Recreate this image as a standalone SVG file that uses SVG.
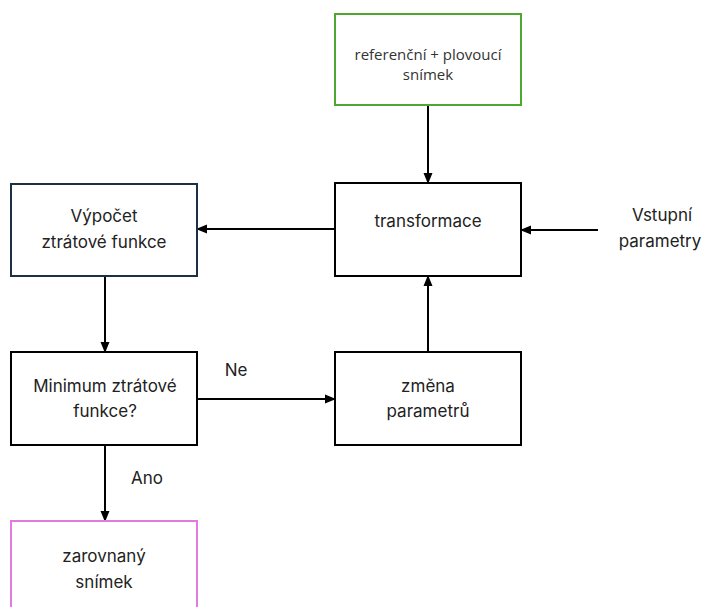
<svg xmlns="http://www.w3.org/2000/svg" width="703" height="607" viewBox="0 0 703 607">
<style>
.box{fill:#fff;stroke-width:2}
.t{font-family:"Inter","Liberation Sans",sans-serif;font-size:17px;fill:#222;text-anchor:middle}
.s{font-family:"Open Sans","Liberation Sans",sans-serif;font-size:15px;fill:#333;text-anchor:middle}
.c{stroke:#000;stroke-width:2;fill:none;marker-end:url(#ah)}
</style>
<defs>
<marker id="ah" markerWidth="11" markerHeight="11" refX="10" refY="5.5" orient="auto" markerUnits="userSpaceOnUse">
<path d="M0,1 L11,5.5 L0,10 Z" fill="#000"/>
</marker>
</defs>
<rect width="703" height="607" fill="#fff"/>
<g id="connectors">
<line class="c" x1="428" y1="105" x2="428" y2="183"/>
<line class="c" x1="335" y1="229" x2="197" y2="229"/>
<line class="c" x1="598" y1="230" x2="521" y2="230"/>
<line class="c" x1="105" y1="276" x2="105" y2="352"/>
<line class="c" x1="197" y1="399" x2="335" y2="399"/>
<line class="c" x1="428" y1="352" x2="428" y2="276"/>
<line class="c" x1="105" y1="445" x2="105" y2="521"/>
<text class="t" x="236" y="376">Ne</text>
<text class="t" x="147" y="484">Ano</text>
</g>
<g id="ref">
<rect class="box" x="335" y="14" width="186" height="91" stroke="#4ea72e"/>
<text class="s" x="428" y="60">referenční + plovoucí</text>
<text class="s" x="428" y="80">snímek</text>
</g>
<g id="transform">
<rect class="box" x="335" y="183" width="186" height="93" stroke="#000"/>
<text class="t" x="428" y="227">transformace</text>
</g>
<g id="vypocet">
<rect class="box" x="11" y="184" width="186" height="92" stroke="#1b2f45"/>
<text class="t" x="104" y="222">Výpočet</text>
<text class="t" x="104" y="248">ztrátové funkce</text>
</g>
<g id="vstup">
<text class="t" x="662" y="221">Vstupní</text>
<text class="t" x="660" y="247">parametry</text>
</g>
<g id="minimum">
<rect class="box" x="11" y="352" width="186" height="93" stroke="#000"/>
<text class="t" x="105" y="392">Minimum ztrátové</text>
<text class="t" x="105" y="417">funkce?</text>
</g>
<g id="zmena">
<rect class="box" x="335" y="352" width="186" height="93" stroke="#000"/>
<text class="t" x="428" y="392">změna</text>
<text class="t" x="428" y="417">parametrů</text>
</g>
<g id="zarovnany">
<rect class="box" x="11" y="521" width="186" height="100" stroke="#e07be0"/>
<text class="t" x="104" y="562">zarovnaný</text>
<text class="t" x="104" y="588">snímek</text>
</g>
</svg>
